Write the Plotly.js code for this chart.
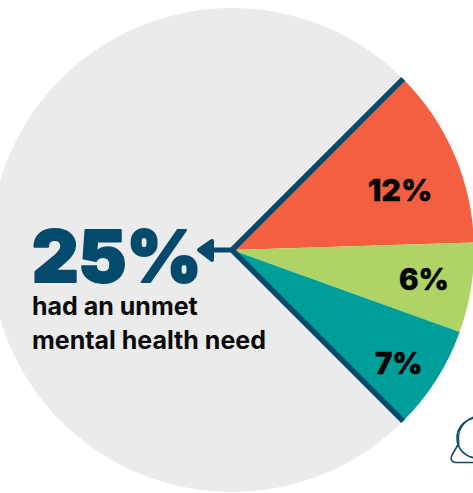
<!DOCTYPE html>
<html>
<head>
<meta charset="utf-8">
<script src="https://cdn.plot.ly/plotly-3.0.1.min.js"></script>
<style>
  html, body { margin: 0; padding: 0; background: #fff; overflow: hidden; width: 473px; height: 493px; }
  #chart { position: absolute; left: -18px; top: 0; width: 500px; height: 500px; }
  .shapelayer path:last-child { stroke-linejoin: round; }
  /* Extra-heavy look for the headline figure and the slice labels */
  .annotation[data-index="3"] text { stroke: #044a6d !important; stroke-width: 2px !important; stroke-linejoin: round; }
  .annotation[data-index="0"] text, .annotation[data-index="1"] text, .annotation[data-index="2"] text {
    stroke: #050505 !important; stroke-width: 0.6px !important; stroke-linejoin: round;
  }
</style>
</head>
<body>
<div id="chart"></div>
<script>
// Share of respondents by group
const categories = ['Other respondents', 'Group A', 'Group B', 'Group C'];
const shares = [75, 12, 6, 7];
const sliceColors = ['#ebebeb', '#f45f42', '#afd465', '#009e98'];
const sliceLabels = ['12%', '6%', '7%'];
const unmetTotal = '25%';
const captionLines = ['had an unmet', 'mental health need'];

const navy = '#044a6d';
const W = 500, H = 500, M = 8, OFFSET_X = 18;
const FONT = 'Inter, sans-serif';

// Window pixels to paper coordinates of the plot area
const toX = v => (v + OFFSET_X - M) / (W - 2 * M);
const toY = v => 1 - (v - M) / (H - 2 * M);

const centerX = 232, centerY = 250, radius = 242;
const unmetShare = shares[1] + shares[2] + shares[3];

// The unmet-need wedge is centred on east
const halfSpan = unmetShare * 3.6 / 2;
const rotation = 90 + halfSpan;

function rim(angleDeg) {
  const a = angleDeg * Math.PI / 180;
  return [toX(centerX + radius * Math.cos(a)), toY(centerY - radius * Math.sin(a))];
}
const top_ = rim(halfSpan), bottom_ = rim(-halfSpan);

function text(x, y, str, size, color, weight, anchor) {
  return {xref: 'paper', yref: 'paper', x: toX(x), y: toY(y), xanchor: anchor, yanchor: 'middle',
    showarrow: false, text: str, font: {family: FONT, size, color, weight}};
}

const annotations = [
  text(399.5, 190, sliceLabels[0], 30.5, '#050505', 800, 'center'),
  text(424, 279, sliceLabels[1], 29.5, '#050505', 800, 'center'),
  text(399, 363, sliceLabels[2], 29.5, '#050505', 800, 'center'),
  text(30, 256, unmetTotal, 72, navy, 900, 'left'),
  text(30, 306, captionLines[0], 25, '#0a0a0a', 700, 'left'),
  text(30, 340, captionLines[1], 25, '#0a0a0a', 700, 'left')
];

const P = (x, y) => `${toX(x)} ${toY(y)}`;
const shapes = [
  // Bracket around the wedge, meeting at the pie's centre
  {type: 'path', xref: 'paper', yref: 'paper',
   path: `M ${top_[0]} ${top_[1]} L ${toX(centerX)} ${toY(centerY)} L ${bottom_[0]} ${bottom_[1]}`,
   fillcolor: 'rgba(0,0,0,0)', line: {color: navy, width: 5.5}},
  // Outline of the partly visible head icon in the corner
  {type: 'circle', xref: 'paper', yref: 'paper',
   x0: toX(457), x1: toX(497), y0: toY(418), y1: toY(458),
   fillcolor: 'rgba(0,0,0,0)', line: {color: navy, width: 1.6}},
  {type: 'path', xref: 'paper', yref: 'paper',
   path: `M ${P(459, 443)} L ${P(452, 455)} Q ${P(449, 462)} ${P(456, 462.5)} L ${P(480, 462.5)}`,
   fillcolor: 'rgba(0,0,0,0)', line: {color: navy, width: 1.6}},
  {type: 'path', xref: 'paper', yref: 'paper',
   path: `M ${P(459, 443)} Q ${P(456, 426)} ${P(473, 417)}`,
   fillcolor: 'rgba(0,0,0,0)', line: {color: navy, width: 1.2}},
  // Pointer from the wedge to the total
  {type: 'line', xref: 'paper', yref: 'paper',
   x0: toX(centerX), y0: toY(centerY), x1: toX(208), y1: toY(centerY),
   line: {color: navy, width: 5}},
  {type: 'path', xref: 'paper', yref: 'paper',
   path: `M ${P(199, 250)} L ${P(212, 241)} L ${P(212, 260)} Z`,
   fillcolor: navy, line: {color: navy, width: 4}}
];

Plotly.newPlot('chart', [{
  type: 'pie',
  labels: categories,
  values: shares,
  sort: false,
  direction: 'clockwise',
  rotation: rotation,
  domain: {x: [(centerX + OFFSET_X - M - radius) / (W - 2 * M), (centerX + OFFSET_X - M + radius) / (W - 2 * M)],
           y: [0, 1]},
  textinfo: 'none',
  hoverinfo: 'label+percent',
  showlegend: false,
  marker: {colors: sliceColors, line: {width: 0}}
}], {
  width: W, height: H,
  margin: {l: M, r: M, t: M, b: M, pad: 0},
  paper_bgcolor: 'rgba(0,0,0,0)',
  showlegend: false,
  annotations, shapes
}, {displayModeBar: false, staticPlot: true});
</script>
</body>
</html>
